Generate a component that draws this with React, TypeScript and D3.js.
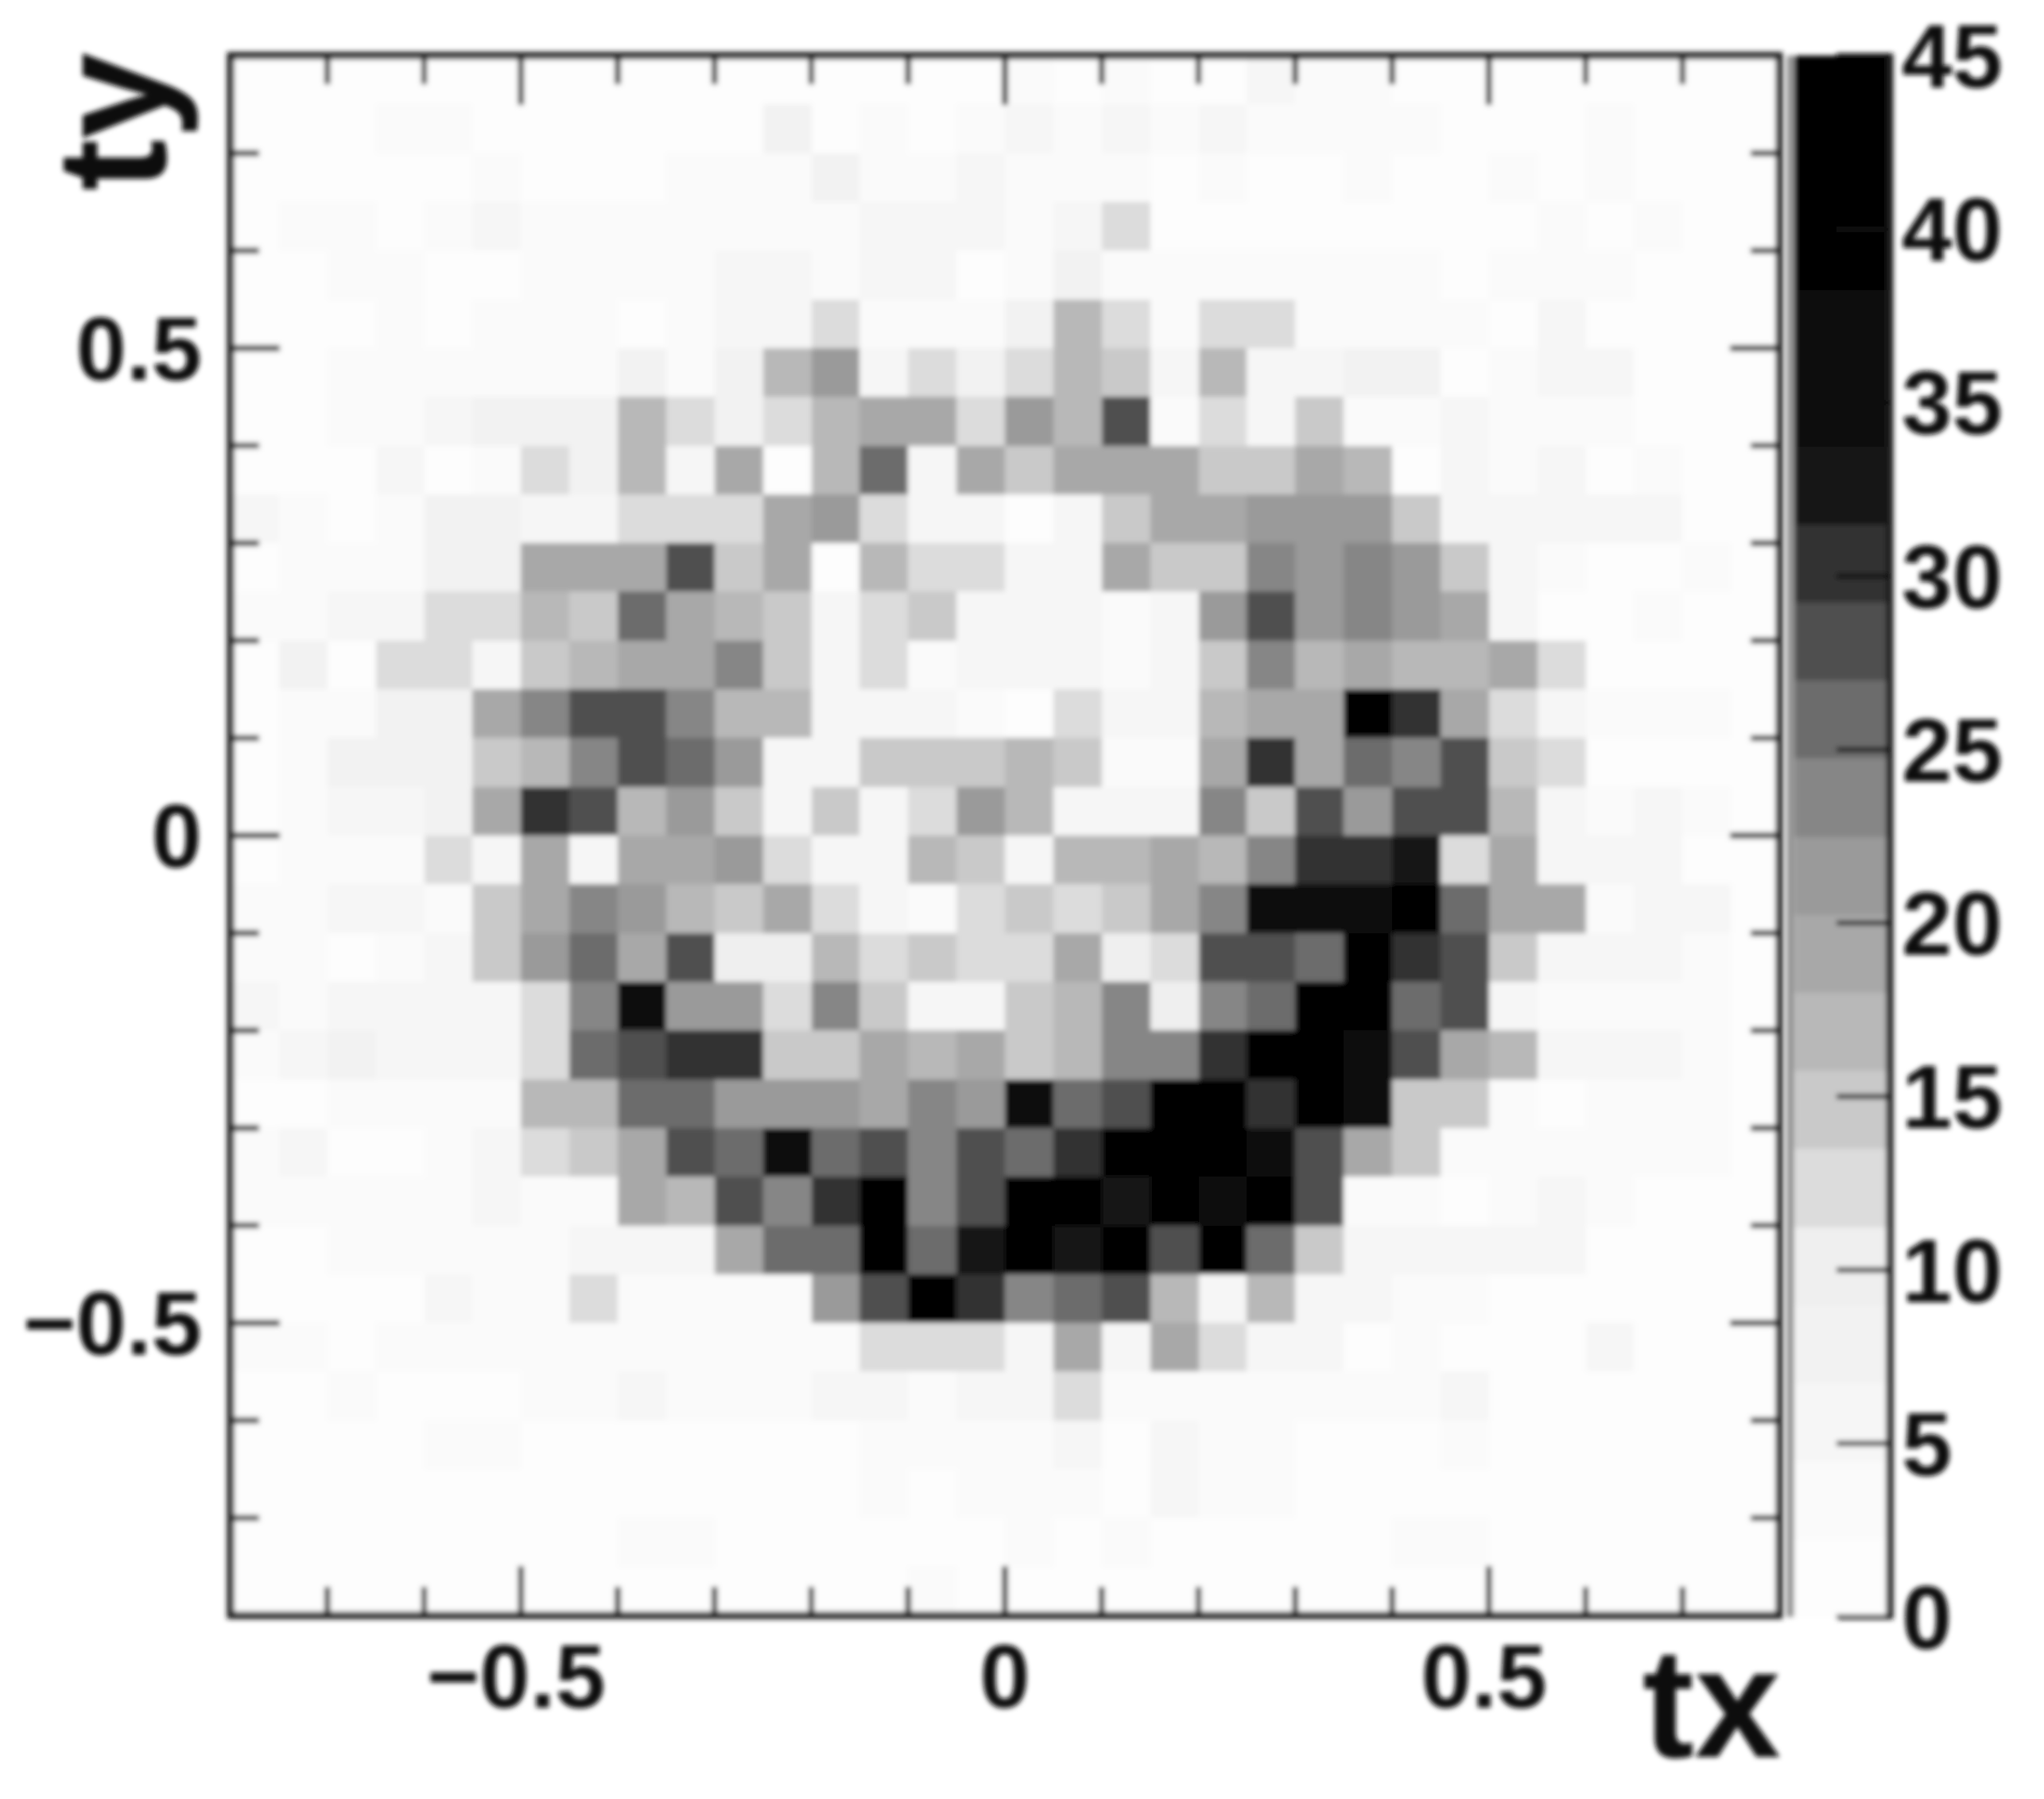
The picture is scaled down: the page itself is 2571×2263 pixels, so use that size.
import React from "react";
import * as d3 from "d3";

const WIDTH = 2571;
const HEIGHT = 2263;

// Bin contents, from ty = 0.8 (top row) down to ty = -0.8; columns tx = -0.8 .. 0.8
const counts: number[][] = [
  [1,1,1,1,1,1,1,1,2,2,2,2,2,2,2,2, 3,1,3,2,2,6,3,3,2,1,1,1,1,1,1,1],
  [1,1,1,3,3,1,2,2,2,2,2,8,1,3,2,3, 5,4,6,3,5,4,4,3,3,2,1,1,3,1,1,1],
  [1,1,2,2,2,3,1,1,1,4,3,3,8,3,4,5, 3,3,3,2,3,2,2,4,2,2,3,2,3,1,1,1],
  [1,3,3,1,3,5,3,3,4,4,3,3,3,5,5,5, 3,6,12,2,2,2,2,2,2,2,2,3,2,3,1,1],
  [1,1,3,3,1,1,3,3,3,3,5,5,3,5,5,2, 3,7,3,3,3,3,3,3,3,1,3,3,3,2,1,1],
  [1,1,2,4,1,3,3,4,1,3,5,5,12,4,4,4, 8,16,13,4,12,12,3,3,4,3,2,5,1,2,2,1],
  [2,2,4,3,3,3,3,3,8,3,8,16,22,6,12,8, 12,17,15,5,16,6,5,8,8,2,3,5,5,2,2,1],
  [1,2,3,3,6,8,8,8,17,12,8,13,16,18,18,12, 21,17,27,3,12,5,15,3,3,6,3,3,3,2,2,1],
  [2,2,2,5,2,3,12,8,17,5,20,2,16,25,5,20, 15,19,19,19,14,14,20,16,2,5,4,6,1,3,2,1],
  [5,3,1,4,8,8,5,6,12,12,12,18,22,12,6,6, 2,5,15,18,18,21,21,21,14,5,5,5,5,5,2,1],
  [2,3,3,3,8,8,19,19,19,27,14,19,2,17,12,12, 5,6,18,14,14,24,21,24,21,14,5,4,1,2,4,1],
  [3,3,5,5,12,12,17,15,25,18,17,14,5,12,14,5, 6,6,4,5,21,27,21,24,21,20,5,2,1,4,2,1],
  [2,8,1,12,12,6,14,17,18,18,24,14,5,12,3,5, 6,5,4,5,15,24,17,19,17,17,18,12,2,2,2,1],
  [2,3,3,8,8,19,24,27,27,24,17,17,5,5,5,3, 2,12,5,5,17,20,18,42,31,18,12,5,4,3,3,2],
  [2,3,7,8,8,14,16,24,27,25,21,5,5,14,14,14, 17,14,4,4,19,30.5,19,26,24,28,14,12,2,2,2,1],
  [2,3,5,6,8,19,31,27,17,21,14,6,14,5,12,21, 17,6,6,6,24,14,28,21,27,27,17,6,3,5,3,1],
  [2,3,3,3,12,5,19,5,19,19,21,12,5,5,16,14, 5,17,17,19,16,23,31,31,33,12,19,6,6,6,2,1],
  [3,4,6,6,3,15,19,24,21,16,14,18,12,6,4,12, 15,12,14,18,23,34,35,34,43,26,19,18,4,5,5,2],
  [3,3,1,4,5,14,21,26,20,28,10,10,16,12,14,12, 12,20,10,13,28,28,25,43,31,28,14,5,5,5,3,1],
  [5,4,6,6,6,6,12,23,36,21,21,13,23,14,6,6, 14,17,24,10,23,25,43,44,26,28,5,3,3,4,4,2],
  [3,5,7,6,5,5,12,26,28,31,31,15,15,18,16,18, 14,17,24,24,30,41,43,38,28,19,17,6,6,5,3,2],
  [2,2,3,3,4,3,16,16,26,26,21,21,21,19,24,21, 34,26,28,41,40,30,44,34,15,15,3,2,3,3,4,1],
  [3,5,2,2,4,5,12,14,19,28,26,35,26,28,24,28, 26,30,39,40,40,36,28,20,15,4,3,3,3,4,3,2],
  [3,4,4,4,3,5,3,3,18,16,28,23,31,42,24,28, 40,41,33,44,36,44,28,3,4,1,3,6,3,2,2,1],
  [2,2,3,4,4,3,4,5,5,5,18,26,26,42,26,33, 44,33,40,27,41,25,14,5,5,5,5,5,1,2,2,1],
  [2,2,2,2,5,3,4,12,3,3,4,4,21,28,42,31, 24,26,28,16,5,16,5,5,3,3,2,2,2,1,1,1],
  [3,3,2,3,3,4,3,3,4,4,3,3,3,12,12,12, 5,19,5,19,12,5,5,2,3,1,2,2,5,1,1,1],
  [1,1,3,1,1,2,3,3,5,4,4,4,5,5,3,5, 5,12,4,3,4,4,4,3,3,5,2,2,2,1,1,1],
  [1,1,2,2,3,3,2,2,2,2,2,2,2,3,3,3, 3,5,1,5,3,3,2,2,2,4,2,2,1,2,1,1],
  [1,1,2,1,1,2,2,2,2,2,2,2,2,3,1,3, 3,4,2,5,3,3,2,2,2,2,1,1,1,1,1,1],
  [1,1,1,2,1,2,2,2,3,4,2,2,2,2,2,2, 4,2,3,2,2,2,2,2,3,3,1,1,1,1,1,1],
  [1,1,1,1,1,1,1,1,1,1,1,1,1,1,3,2, 1,1,1,1,1,1,1,1,1,1,1,1,1,1,1,1],
];

const BIN_WIDTH = 0.05;
const AXIS_MIN = -0.8;
const AXIS_MAX = 0.8;

// Grey levels of the 20 palette bands, lowest value first
const greyBands = [
  "#fdfdfd","#fafafa","#f6f6f6","#f2f2f2","#efefef",
  "#dcdcdc","#c9c9c9","#b8b8b8","#a8a8a8","#9a9a9a",
  "#868686","#6c6c6c","#505050","#333333","#131313",
  "#0f0f0f","#0a0a0a","#060606","#030303","#000000",
];
const paletteMax = 45;

const axisTicks = [-0.7,-0.6,-0.5,-0.4,-0.3,-0.2,-0.1,0,0.1,0.2,0.3,0.4,0.5,0.6,0.7];
const majorTicks = [-0.5, 0, 0.5];
const paletteTicks = [0,5,10,15,20,25,30,35,40,45];

const INK = "#1c1c1c";
const LABEL_FONT = "'Liberation Sans', Arial, sans-serif";

const x = d3.scaleLinear().domain([AXIS_MIN, AXIS_MAX]).range([290, 2238]);
const y = d3.scaleLinear().domain([AXIS_MIN, AXIS_MAX]).range([2032, 70]);
const color = d3.scaleQuantize<string>().domain([0, paletteMax]).range(greyBands);
const zScale = d3.scaleLinear().domain([0, paletteMax]).range([2034, 70]);

const isMajor = (t: number) => majorTicks.includes(t);
const fmt = (t: number) => (t === 0 ? "0" : t < 0 ? `\u2212${Math.abs(t)}` : `${t}`);

const BAR_LEFT = 2257;
const BAR_RIGHT = 2377;

export default function App() {
  const bandStep = paletteMax / greyBands.length;
  return (
    <svg
      width={WIDTH}
      height={HEIGHT}
      viewBox={`0 0 ${WIDTH} ${HEIGHT}`}
      style={{ position: "absolute", left: 0, top: 0, display: "block", background: "#fff" }}
    >
      <defs>
        <filter id="soft" filterUnits="userSpaceOnUse" x={0} y={0} width={WIDTH} height={HEIGHT}>
          <feGaussianBlur stdDeviation={3} />
        </filter>
      </defs>
      <rect width={WIDTH} height={HEIGHT} fill="#fff" />
      <g filter="url(#soft)">
        {/* histogram cells */}
        <g shapeRendering="crispEdges">
          {counts.map((row, r) =>
            row.map((v, c) => {
              const x0 = x(AXIS_MIN + c * BIN_WIDTH);
              const x1 = x(AXIS_MIN + (c + 1) * BIN_WIDTH);
              const y0 = y(AXIS_MAX - r * BIN_WIDTH);
              const y1 = y(AXIS_MAX - (r + 1) * BIN_WIDTH);
              return (
                <rect
                  key={`${r}-${c}`}
                  x={x0}
                  y={y0}
                  width={x1 - x0 + 0.5}
                  height={y1 - y0 + 0.5}
                  fill={color(v)}
                />
              );
            })
          )}
        </g>

        {/* ticks on all four sides */}
        <g stroke={INK} strokeWidth={7}>
          {axisTicks.map((t) => {
            const len = isMajor(t) ? 62 : 36;
            return (
              <g key={t}>
                <line x1={x(t)} x2={x(t)} y1={y.range()[0]} y2={y.range()[0] - len} />
                <line x1={x(t)} x2={x(t)} y1={y.range()[1]} y2={y.range()[1] + len} />
                <line y1={y(t)} y2={y(t)} x1={x.range()[0]} x2={x.range()[0] + len} />
                <line y1={y(t)} y2={y(t)} x1={x.range()[1]} x2={x.range()[1] - len} />
              </g>
            );
          })}
        </g>

        {/* frame */}
        <rect
          x={x.range()[0]}
          y={y.range()[1]}
          width={x.range()[1] - x.range()[0]}
          height={y.range()[0] - y.range()[1]}
          fill="none"
          stroke={INK}
          strokeWidth={9}
        />

        {/* colour bar */}
        <g shapeRendering="crispEdges">
          {greyBands.map((g, i) => {
            const top = zScale((i + 1) * bandStep);
            const bottom = zScale(i * bandStep);
            return (
              <rect
                key={g + i}
                x={BAR_LEFT}
                y={top}
                width={BAR_RIGHT - BAR_LEFT}
                height={bottom - top + 0.5}
                fill={g}
              />
            );
          })}
        </g>
        <line
          x1={BAR_LEFT - 5}
          x2={BAR_LEFT - 5}
          y1={zScale(paletteMax)}
          y2={zScale(0)}
          stroke="#909090"
          strokeWidth={9}
        />
        <line
          x1={BAR_RIGHT}
          x2={BAR_RIGHT}
          y1={zScale(paletteMax) - 3}
          y2={zScale(0) + 3}
          stroke={INK}
          strokeWidth={9}
        />
        <g stroke="#111" strokeWidth={6}>
          {paletteTicks.map((t) => (
            <line key={t} x1={BAR_RIGHT} x2={BAR_RIGHT - 67} y1={zScale(t)} y2={zScale(t)} />
          ))}
        </g>

        {/* tick labels */}
        <g fontFamily={LABEL_FONT} fontWeight={700} fontSize={114} fill="#111">
          {majorTicks.map((t) => (
            <text key={`xl${t}`} x={x(t) - (t === 0 ? 0 : 6)} y={2148} textAnchor="middle">
              {fmt(t)}
            </text>
          ))}
          {majorTicks.map((t) => (
            <text key={`yl${t}`} x={254} y={y(t) + 40} textAnchor="end">
              {fmt(t)}
            </text>
          ))}
          {paletteTicks.map((t) => (
            <text key={`zl${t}`} x={2392} y={zScale(t) + 40}>
              {t}
            </text>
          ))}
        </g>

        {/* axis titles */}
        <g fontFamily={LABEL_FONT} fontWeight={700} fontSize={196} fill="#111">
          <text x={2240} y={2210} textAnchor="end">tx</text>
          <text transform="translate(208,66) rotate(-90)" textAnchor="end">ty</text>
        </g>
      </g>
    </svg>
  );
}
